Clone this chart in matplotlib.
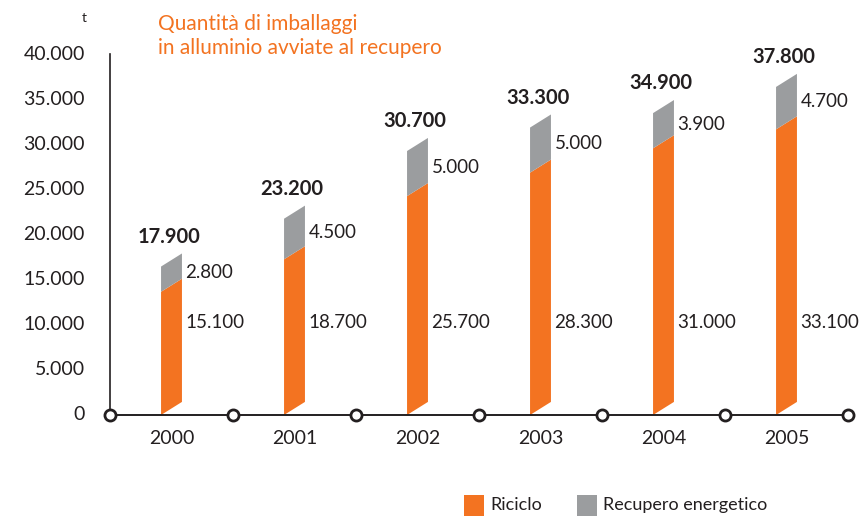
import matplotlib.pyplot as plt
from matplotlib.patches import Polygon, Rectangle
from matplotlib.transforms import blended_transform_factory

plt.rcParams['font.family'] = ['Lato', 'DejaVu Sans']

# data
years = ['2000', '2001', '2002', '2003', '2004', '2005']
riciclo = [15100, 18700, 25700, 28300, 31000, 33100]
recupero = [2800, 4500, 5000, 5000, 3900, 4700]
totale = [17900, 23200, 30700, 33300, 34900, 37800]
y_ticks = [0, 5000, 10000, 15000, 20000, 25000, 30000, 35000, 40000]

ORANGE = '#f37321'
GREY = '#9b9d9f'
DARK = '#231f20'


def fmt(v):
    return f'{v:,}'.replace(',', '.')


fig = plt.figure(figsize=(8.62, 5.16), dpi=100)
ax = fig.add_axes([110 / 862, 1 - 415 / 516, 738 / 862, 361 / 516])
ax.set_xlim(-0.5, 5.5)
ax.set_ylim(0, 40000)
ax.axis('off')

bw = 0.17      # bar width
shear = 1450   # slant of the bars, in data units

for i in range(len(years)):
    x0, x1 = i - bw / 2, i + bw / 2
    r, t = riciclo[i], riciclo[i] + recupero[i]
    ax.add_patch(Polygon([(x0, 0), (x1, shear), (x1, r), (x0, r - shear)],
                         closed=True, fc=ORANGE, ec='none'))
    ax.add_patch(Polygon([(x0, r - shear), (x1, r), (x1, t), (x0, t - shear)],
                         closed=True, fc=GREY, ec='none'))
    ax.annotate(fmt(totale[i]), (i, t), xytext=(-2, 5), textcoords='offset points',
                ha='center', va='bottom', fontsize=14.5, fontweight='bold', color=DARK)
    ax.annotate(fmt(recupero[i]), (x1, (r + t) / 2 - shear / 2), xytext=(2.5, 0),
                textcoords='offset points', ha='left', va='center',
                fontsize=13.5, color=DARK)
    ax.annotate(fmt(riciclo[i]), (x1, 10300), xytext=(2.5, 0),
                textcoords='offset points', ha='left', va='center',
                fontsize=13.5, color=DARK)

# axes lines with open circles
ax.plot([-0.5, 5.5], [0, 0], color=DARK, lw=1.4, clip_on=False, zorder=3)
ax.plot([-0.5, -0.5], [0, 40000], color=DARK, lw=1.2, clip_on=False, zorder=3)
ax.plot([i - 0.5 for i in range(len(years) + 1)], [0] * (len(years) + 1), 'o',
        ms=8, mfc='white', mec=DARK, mew=2, clip_on=False, zorder=4)

trans = blended_transform_factory(ax.transData, ax.transAxes)
for i, yr in enumerate(years):
    ax.text(i, -0.064, yr, transform=trans, ha='center', va='center',
            fontsize=14, color=DARK)

for v in y_ticks:
    ax.annotate(fmt(v), (-0.5, v), xytext=(-18, 0), textcoords='offset points',
                ha='right', va='center', fontsize=14, color=DARK,
                annotation_clip=False)

fig.text(87 / 862, 1 - 18 / 516, 't', ha='right', va='center', fontsize=10, color=DARK)
fig.text(158 / 862, 1 - 36 / 516, 'Quantità di imballaggi\nin alluminio avviate al recupero',
         ha='left', va='center', fontsize=15, color=ORANGE, linespacing=1.3)

# legend
fig.patches.append(Rectangle((464 / 862, 0), 20 / 862, 21 / 516, fc=ORANGE,
                             transform=fig.transFigure, figure=fig))
fig.text(490 / 862, 1 - 505 / 516, 'Riciclo', ha='left', va='center',
         fontsize=13, color=DARK)
fig.patches.append(Rectangle((577 / 862, 0), 20 / 862, 21 / 516, fc=GREY,
                             transform=fig.transFigure, figure=fig))
fig.text(603 / 862, 1 - 505 / 516, 'Recupero energetico', ha='left', va='center',
         fontsize=13, color=DARK)

fig.savefig('out.png', dpi=100)
